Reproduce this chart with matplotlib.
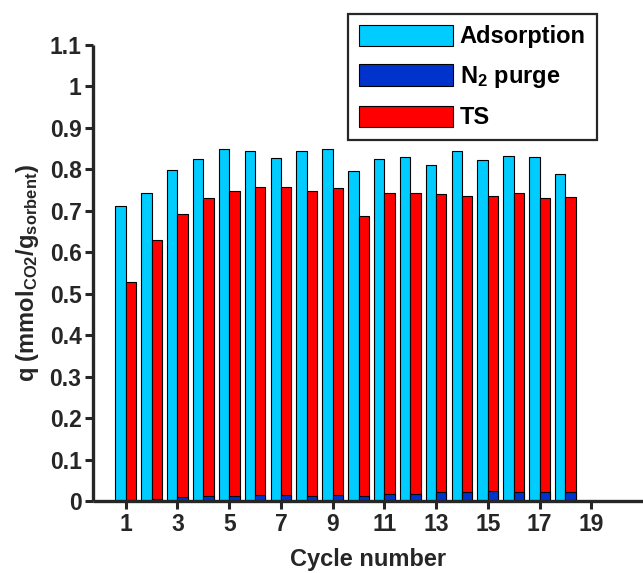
import numpy as np
import matplotlib

matplotlib.use("Agg")
import matplotlib.pyplot as plt

# cycle data
cycles = np.arange(1, 19)
adsorption = [0.711, 0.744, 0.798, 0.826, 0.849, 0.845, 0.828, 0.845, 0.848,
              0.796, 0.825, 0.830, 0.810, 0.845, 0.822, 0.833, 0.829, 0.788]
ts = [0.528, 0.629, 0.692, 0.732, 0.749, 0.757, 0.757, 0.749, 0.756,
      0.687, 0.742, 0.742, 0.741, 0.736, 0.735, 0.744, 0.730, 0.734]
n2_purge = [0.002, 0.006, 0.009, 0.011, 0.013, 0.014, 0.014, 0.012, 0.015,
            0.011, 0.017, 0.018, 0.021, 0.022, 0.023, 0.021, 0.021, 0.022]
xticks = np.arange(1, 20, 2)
yticks = np.round(np.arange(0, 1.11, 0.1), 1)

C_ADS = "#00CCFF"
C_N2 = "#0033CC"
C_TS = "#FF0000"
DARK = "#262626"

plt.rcParams["font.family"] = "Liberation Sans"
plt.rcParams["font.weight"] = "bold"
plt.rcParams["axes.labelweight"] = "bold"
plt.rcParams["mathtext.fontset"] = "custom"
plt.rcParams["mathtext.rm"] = "Liberation Sans:bold"
plt.rcParams["mathtext.it"] = "Liberation Sans:bold"
plt.rcParams["mathtext.bf"] = "Liberation Sans:bold"

W, H = 643, 573
fig = plt.figure(figsize=(W / 100, H / 100), dpi=100)
ax = fig.add_axes([93.4 / W, 1 - 501 / H, (W - 93.4) / W, 456 / H])

w = 0.4
ax.bar(cycles - w / 2, adsorption, w, color=C_ADS, edgecolor="black",
       lw=0.8, label="Adsorption")
ax.bar(cycles + w / 2, ts, w, color=C_TS, edgecolor="black", lw=0.8,
       label="TS")
ax.bar(cycles + w / 2, n2_purge, w, color=C_N2, edgecolor="black", lw=0.8,
       label="N$_{2}$ purge")

ax.set_xlim(-0.25, 21)
ax.set_ylim(0, 1.1)
ax.set_xticks(xticks)
ax.set_yticks(yticks)
ax.set_yticklabels([f"{v:g}" for v in yticks])

for side in ("top", "right"):
    ax.spines[side].set_visible(False)
for side in ("left", "bottom"):
    ax.spines[side].set_linewidth(2.4)
    ax.spines[side].set_color(DARK)
    ax.spines[side].set_capstyle("butt")
ax.tick_params(direction="out", length=5.5, width=2.2, colors=DARK,
               labelsize=16.5, pad=3)

ax.set_xlabel("Cycle number", fontsize=17, color=DARK, labelpad=9)
ax.set_ylabel(r"q (mmol$_{\mathrm{CO2}}$/g$_{\mathrm{sorbent}}$)",
              fontsize=17, color=DARK, labelpad=6)

h, l = ax.get_legend_handles_labels()
order = [0, 2, 1]
leg = ax.legend([h[i] for i in order], [l[i] for i in order],
                loc="upper left", bbox_to_anchor=(347.5 / W, 1 - 13.5 / H),
                bbox_transform=fig.transFigure, borderaxespad=0,
                fontsize=17, handlelength=3.98, handleheight=1.02,
                labelspacing=0.66, borderpad=0.47, handletextpad=0.3,
                fancybox=False, framealpha=1)
leg.get_frame().set_edgecolor(DARK)
leg.get_frame().set_linewidth(1.6)

fig.savefig("out.png", dpi=100)
